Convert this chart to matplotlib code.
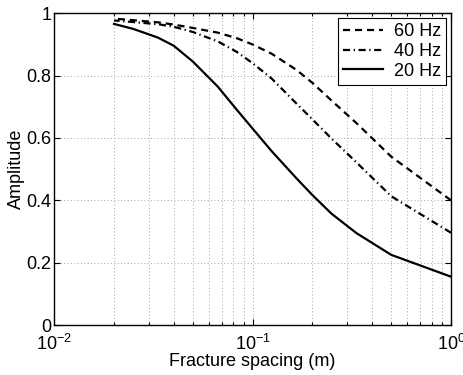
import matplotlib
matplotlib.use("Agg")
import matplotlib.pyplot as plt
import numpy as np

plt.rcParams['font.family'] = ['Liberation Sans', 'DejaVu Sans']
plt.rcParams['mathtext.fontset'] = 'custom'
plt.rcParams['mathtext.rm'] = 'Liberation Sans'
plt.rcParams['mathtext.it'] = 'Liberation Sans:italic'

spacing = [1.0, 1/2, 1/3, 1/4, 1/5, 1/6, 1/8, 1/10, 1/12, 1/15, 1/20, 1/25, 1/30, 1/40, 1/50]
amp_60 = [0.400, 0.540, 0.648, 0.720, 0.777, 0.818, 0.870, 0.900, 0.920, 0.938, 0.953, 0.964, 0.971, 0.978, 0.983]
amp_40 = [0.296, 0.413, 0.522, 0.598, 0.660, 0.710, 0.790, 0.840, 0.876, 0.910, 0.940, 0.957, 0.965, 0.972, 0.977]
amp_20 = [0.155, 0.225, 0.295, 0.357, 0.417, 0.470, 0.557, 0.630, 0.690, 0.765, 0.845, 0.896, 0.922, 0.950, 0.966]
labels = ["60 Hz", "40 Hz", "20 Hz"]

fig = plt.figure(figsize=(4.64, 3.75), dpi=100)
ax = fig.add_axes([0.117, 0.1333, 0.855, 0.8312])

lw = 1.6
ax.plot(spacing, amp_60, color='black', lw=lw, dashes=(3.2, 2.2), label=labels[0])
ax.plot(spacing, amp_40, color='black', lw=lw, dashes=(3.2, 1.6, 0.6, 1.6), label=labels[1])
ax.plot(spacing, amp_20, color='black', lw=lw, linestyle='-', label=labels[2])

ax.set_xscale('log')
ax.set_xlim(1e-2, 1)
ax.set_ylim(0, 1)
ax.set_yticks([0, 0.2, 0.4, 0.6, 0.8, 1])
ax.set_yticklabels(['0', '0.2', '0.4', '0.6', '0.8', '1'])

ax.grid(True, which='major', axis='both', linestyle=(0, (1, 3)), color='#888888', lw=0.6)
ax.grid(True, which='minor', axis='x', linestyle=(0, (1, 3)), color='#888888', lw=0.6)

ax.tick_params(which='both', direction='in', top=True, right=True, labelsize=13, width=0.8)
ax.tick_params(which='major', length=4)
ax.tick_params(which='minor', length=2)
ax.tick_params(axis='y', which='major', pad=2)
ax.tick_params(axis='x', which='major', pad=6.5)
for s in ax.spines.values():
    s.set_linewidth(1.0)

ax.set_xlabel('Fracture spacing (m)', fontsize=13, labelpad=-1)
ax.set_ylabel('Amplitude', fontsize=13, labelpad=1)

leg = ax.legend(loc='upper right', fontsize=13, frameon=True, fancybox=False,
                edgecolor='black', framealpha=1, borderaxespad=0.25,
                handlelength=2.2, handletextpad=0.6, borderpad=0.3, labelspacing=0.15)
leg.get_frame().set_linewidth(0.8)

fig.savefig('out.png', dpi=100)
